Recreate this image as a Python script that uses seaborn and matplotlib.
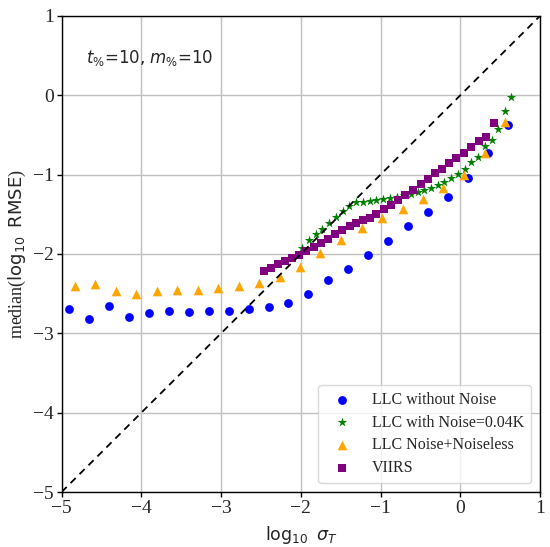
import numpy as np
import pandas as pd
import matplotlib
matplotlib.use("Agg")
import matplotlib.pyplot as plt
import seaborn as sns

# ---- data ----
blue_x = [-4.905, -4.655, -4.405, -4.155, -3.905, -3.655, -3.405, -3.155, -2.905,
          -2.655, -2.405, -2.155, -1.905, -1.655, -1.405, -1.155, -0.905, -0.655,
          -0.405, -0.155, 0.095, 0.345, 0.595]
blue_y = [-2.69, -2.82, -2.66, -2.80, -2.745, -2.72, -2.73, -2.72, -2.72, -2.70,
          -2.67, -2.615, -2.51, -2.33, -2.185, -2.01, -1.84, -1.65, -1.47, -1.28,
          -1.04, -0.73, -0.38]

green_x = [-1.980, -1.896, -1.813, -1.730, -1.643, -1.559, -1.475, -1.393, -1.305,
           -1.221, -1.138, -1.055, -0.971, -0.881, -0.793, -0.709, -0.619, -0.536,
           -0.450, -0.368, -0.284, -0.203, -0.118, -0.034, 0.054, 0.138, 0.220,
           0.304, 0.395, 0.475, 0.560, 0.638]
green_y = [-1.926, -1.828, -1.749, -1.680, -1.608, -1.535, -1.465, -1.397, -1.349,
           -1.340, -1.334, -1.319, -1.311, -1.293, -1.277, -1.261, -1.240, -1.217,
           -1.189, -1.164, -1.129, -1.093, -1.042, -0.996, -0.927, -0.845, -0.778,
           -0.643, -0.559, -0.426, -0.195, -0.021]

orange_x = [-4.834, -4.575, -4.321, -4.063, -3.809, -3.550, -3.293, -3.034, -2.780,
            -2.521, -2.263, -2.013, -1.759, -1.496, -1.238, -0.980, -0.725, -0.471,
            -0.213, 0.045, 0.304, 0.554]
orange_y = [-2.402, -2.381, -2.462, -2.499, -2.472, -2.459, -2.455, -2.434, -2.405,
            -2.362, -2.291, -2.160, -1.989, -1.820, -1.673, -1.547, -1.429, -1.303,
            -1.169, -1.000, -0.728, -0.337]

purple_x = [-2.459, -2.375, -2.284, -2.196, -2.105, -2.021, -1.930, -1.838, -1.746,
            -1.655, -1.571, -1.480, -1.388, -1.305, -1.218, -1.130, -1.055, -0.963,
            -0.871, -0.780, -0.688, -0.593, -0.496, -0.405, -0.313, -0.230, -0.146,
            -0.050, 0.045, 0.138, 0.229, 0.320, 0.416]
purple_y = [-2.216, -2.173, -2.122, -2.090, -2.052, -2.014, -1.963, -1.913, -1.857,
            -1.807, -1.753, -1.702, -1.652, -1.610, -1.576, -1.542, -1.492, -1.434,
            -1.378, -1.315, -1.252, -1.189, -1.113, -1.050, -0.980, -0.924, -0.857,
            -0.786, -0.728, -0.652, -0.576, -0.526, -0.349]

labels = ["LLC without Noise", "LLC with Noise=0.04K", "LLC Noise+Noiseless", "VIIRS"]
ticks = [-5, -4, -3, -2, -1, 0, 1]

# ---- style ----
sns.set_style("ticks")
plt.rcParams["font.family"] = ["Liberation Serif", "DejaVu Serif"]
plt.rcParams["mathtext.fontset"] = "dejavusans"

fig = plt.figure(figsize=(5.5, 5.47), dpi=100)
ax = fig.add_axes([0.112, 0.1005, 0.870, 0.8705])

series = [
    (blue_x, blue_y, "blue", "o", 40),
    (green_x, green_y, "green", "*", 50),
    (orange_x, orange_y, "orange", "^", 48),
    (purple_x, purple_y, "purple", "s", 34),
]
for (xs, ys, c, m, s), lab in zip(series, labels):
    df = pd.DataFrame({"x": xs, "y": ys})
    sns.scatterplot(data=df, x="x", y="y", color=c, marker=m, s=s,
                    linewidth=0, label=lab, ax=ax, zorder=3)

ax.axline((0, 0), slope=1, color="black", linestyle=(0, (4, 3)), lw=1.3, zorder=4)

ax.set_xlim(-5, 1)
ax.set_ylim(-5, 1)
ax.set_xticks(ticks)
ax.set_yticks(ticks)
ax.tick_params(labelsize=14, direction="out", length=3.5, width=1, color="black", pad=2)
ax.grid(True, color="#c0c0c0", lw=1.0)
ax.set_axisbelow(True)
for sp in ax.spines.values():
    sp.set_color("black")
    sp.set_linewidth(1.0)

ax.set_xlabel(r"$\log_{10}\ \sigma_T$", fontsize=12.5, labelpad=5)
ax.set_ylabel(r"median($\log_{10}\ \mathrm{RMSE}$)", fontsize=13, labelpad=4)

ax.text(-4.70, 0.47, r"$t_{\%}$=10, $m_{\%}$=10", fontsize=12, va="center",
        family=["DejaVu Sans"])

leg = ax.legend(loc="lower right", fontsize=11.5, frameon=True, framealpha=0.8,
                handletextpad=0.9, borderpad=0.45, labelspacing=0.42,
                borderaxespad=0.55)
leg.get_frame().set_edgecolor("#d0d0d0")

fig.savefig("out.png", dpi=100)
